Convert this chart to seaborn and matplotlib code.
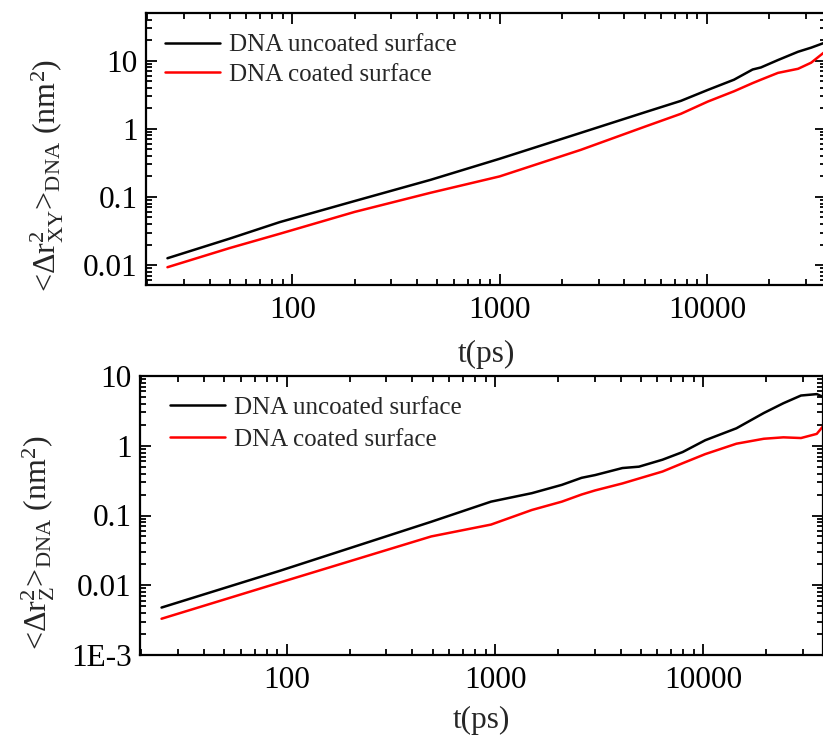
import numpy as np
import pandas as pd
import matplotlib
matplotlib.use("Agg")
import matplotlib.pyplot as plt
import matplotlib.ticker as mticker
import seaborn as sns

# ---- data ----
t_xy = [25, 50, 87, 200, 464, 1000, 2460, 5000, 7490, 10100, 13500, 16600,
        18200, 22000, 27500, 31800, 36700]
xy_uncoated = [0.0126, 0.0245, 0.0427, 0.0871, 0.178, 0.363, 0.871, 1.74, 2.57,
               3.72, 5.25, 7.41, 7.94, 10.2, 13.5, 15.5, 18.2]
xy_coated = [0.0093, 0.0178, 0.0288, 0.0603, 0.115, 0.200, 0.490, 1.07, 1.66,
             2.51, 3.55, 4.68, 5.25, 6.61, 7.59, 9.33, 13.2]

t_z = [25, 93, 493, 955, 1500, 2090, 2600, 3020, 4080, 4900, 6360, 7950,
       10200, 14400, 19500, 24200, 29400, 35000, 39000]
z_uncoated = [0.00479, 0.0162, 0.0813, 0.158, 0.209, 0.275, 0.347, 0.380, 0.479,
              0.501, 0.631, 0.813, 1.20, 1.78, 2.95, 4.07, 5.25, 5.50, 4.79]
z_coated = [0.00331, 0.0110, 0.0501, 0.0741, 0.120, 0.158, 0.200, 0.229, 0.288,
            0.339, 0.427, 0.562, 0.759, 1.07, 1.26, 1.32, 1.29, 1.48, 2.19]

series_names = ["DNA uncoated surface", "DNA coated surface"]
series_colors = ["black", "red"]

x_ticks = [100, 1000, 10000]
x_ticklabels = ["100", "1000", "10000"]
y_ticks_xy = [0.01, 0.1, 1, 10]
y_ticklabels_xy = ["0.01", "0.1", "1", "10"]
y_ticks_z = [0.001, 0.01, 0.1, 1, 10]
y_ticklabels_z = ["1E-3", "0.01", "0.1", "1", "10"]

# ---- style ----
sns.set_style("ticks")
plt.rcParams["font.family"] = ["Liberation Serif", "DejaVu Serif"]
plt.rcParams["mathtext.fontset"] = "custom"
plt.rcParams["mathtext.rm"] = "Liberation Serif"
plt.rcParams["mathtext.it"] = "Liberation Serif:italic"
plt.rcParams["mathtext.bf"] = "Liberation Serif:bold"

W, H = 823, 740
fig = plt.figure(figsize=(W / 100, H / 100), dpi=100)

def px_axes(left, top, right, bottom):
    return fig.add_axes([left / W, 1 - bottom / H, (right - left) / W, (bottom - top) / H])

ax1 = px_axes(146, 13, 826, 285)
ax2 = px_axes(140, 376, 823, 655)

def build(t, a, b):
    return pd.DataFrame({
        "t": list(t) + list(t),
        "msd": list(a) + list(b),
        "series": [series_names[0]] * len(t) + [series_names[1]] * len(t),
    })

df_xy = build(t_xy, xy_uncoated, xy_coated)
df_z = build(t_z, z_uncoated, z_coated)

for ax, df, yt, ytl, ylim, leg_anchor, leg_space, xpad in [
    (ax1, df_xy, y_ticks_xy, y_ticklabels_xy, (0.0051, 50), (0.0132, 0.960), 0.27, 11),
    (ax2, df_z, y_ticks_z, y_ticklabels_z, (0.001, 10), (0.0294, 0.963), 0.39, 8),
]:
    sns.lineplot(data=df, x="t", y="msd", hue="series", hue_order=series_names,
                 palette=series_colors, linewidth=1.8, ax=ax, estimator=None,
                 sort=False)
    ax.set_xscale("log")
    ax.set_yscale("log")
    ax.set_xlim(19.7, 37500)
    ax.set_ylim(*ylim)
    ax.xaxis.set_major_locator(mticker.FixedLocator(x_ticks))
    ax.xaxis.set_major_formatter(mticker.FixedFormatter(x_ticklabels))
    ax.xaxis.set_minor_locator(mticker.LogLocator(base=10, subs=np.arange(2, 10)))
    ax.xaxis.set_minor_formatter(mticker.NullFormatter())
    ax.yaxis.set_major_locator(mticker.FixedLocator(yt))
    ax.yaxis.set_major_formatter(mticker.FixedFormatter(ytl))
    ax.yaxis.set_minor_locator(mticker.LogLocator(base=10, subs=np.arange(2, 10), numticks=20))
    ax.yaxis.set_minor_formatter(mticker.NullFormatter())
    ax.tick_params(which="both", direction="in", top=True, right=True,
                   width=1.3, colors="black")
    ax.tick_params(which="major", length=8, labelsize=22.5, pad=6)
    ax.tick_params(axis="x", which="major", pad=8)
    ax.tick_params(which="minor", length=4.5)
    for s in ax.spines.values():
        s.set_linewidth(1.6)
        s.set_color("black")
    ax.set_xlabel("t(ps)", fontsize=22.5, labelpad=xpad)
    leg = ax.legend(loc="upper left", frameon=False, fontsize=18,
                    handlelength=2.2, handletextpad=0.35, labelspacing=leg_space,
                    borderaxespad=0.0, bbox_to_anchor=leg_anchor)
    for line in leg.get_lines():
        line.set_linewidth(1.8)

ax1.set_ylabel(r"<$\Delta$r$^{2}_{\mathrm{XY}}$>$_{\mathrm{DNA}}$ (nm$^{2}$)", fontsize=23)
ax2.set_ylabel(r"<$\Delta$r$^{2}_{\mathrm{Z}}$>$_{\mathrm{DNA}}$ (nm$^{2}$)", fontsize=23)
ax1.yaxis.set_label_coords(-0.118, 0.404)
ax2.yaxis.set_label_coords(-0.122, 0.401)

fig.savefig("out.png", dpi=100)
